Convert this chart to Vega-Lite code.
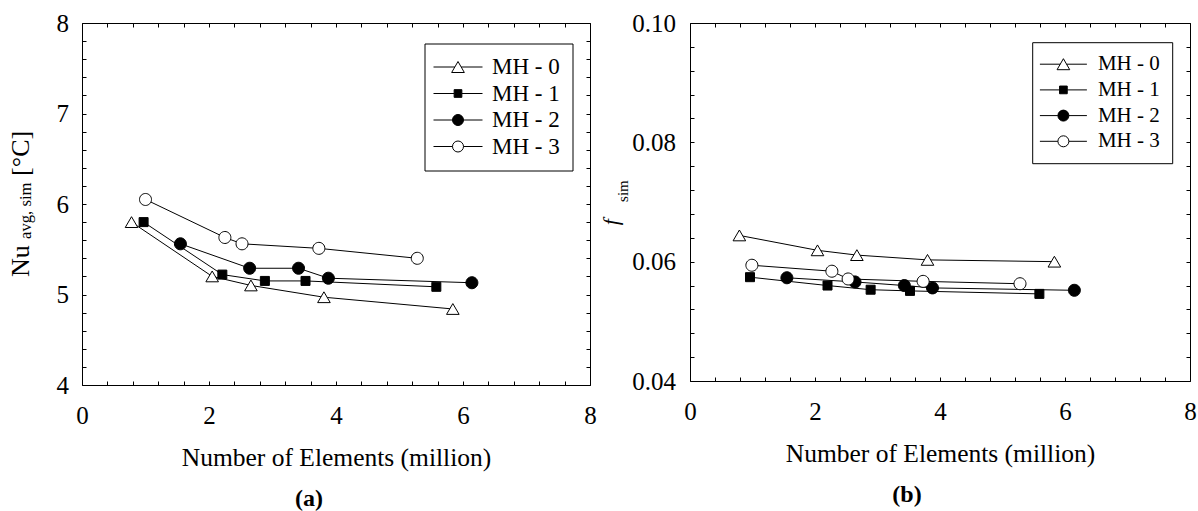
{
  "$schema": "https://vega.github.io/schema/vega-lite/v6.json",
  "background": "white",
  "padding": {"left": 7, "top": 10, "right": 5, "bottom": 5},
  "config": {
    "font": "Liberation Serif",
    "view": {"stroke": "black", "strokeWidth": 1},
    "axis": {
      "grid": false,
      "domain": false,
      "tickColor": "black",
      "tickWidth": 1,
      "tickSize": 4,
      "offset": -4,
      "labelFont": "Liberation Serif",
      "labelFontSize": 25,
      "labelColor": "black",
      "labelFlush": false,
      "labelOverlap": false,
      "labelBound": false,
      "titleFont": "Liberation Serif",
      "titleFontSize": 25.5,
      "titleFontWeight": "normal",
      "titleColor": "black"
    },
    "title": {"font": "Liberation Serif", "fontSize": 24, "fontWeight": "bold", "color": "black", "frame": "group"}
  },
  "datasets": {
    "nusselt": [
      {"mesh": "MH - 0", "elements": 0.78, "nu": 5.80},
      {"mesh": "MH - 0", "elements": 2.05, "nu": 5.20},
      {"mesh": "MH - 0", "elements": 2.66, "nu": 5.10},
      {"mesh": "MH - 0", "elements": 3.81, "nu": 4.97},
      {"mesh": "MH - 0", "elements": 5.84, "nu": 4.84},
      {"mesh": "MH - 1", "elements": 0.97, "nu": 5.80},
      {"mesh": "MH - 1", "elements": 2.21, "nu": 5.22},
      {"mesh": "MH - 1", "elements": 2.88, "nu": 5.15},
      {"mesh": "MH - 1", "elements": 3.52, "nu": 5.15},
      {"mesh": "MH - 1", "elements": 5.58, "nu": 5.085},
      {"mesh": "MH - 2", "elements": 1.55, "nu": 5.56},
      {"mesh": "MH - 2", "elements": 2.64, "nu": 5.29},
      {"mesh": "MH - 2", "elements": 3.41, "nu": 5.29},
      {"mesh": "MH - 2", "elements": 3.88, "nu": 5.18},
      {"mesh": "MH - 2", "elements": 6.14, "nu": 5.13},
      {"mesh": "MH - 3", "elements": 1.00, "nu": 6.05},
      {"mesh": "MH - 3", "elements": 2.25, "nu": 5.63},
      {"mesh": "MH - 3", "elements": 2.52, "nu": 5.56},
      {"mesh": "MH - 3", "elements": 3.73, "nu": 5.51},
      {"mesh": "MH - 3", "elements": 5.28, "nu": 5.40}
    ],
    "friction": [
      {"mesh": "MH - 0", "elements": 0.79, "f": 0.0644},
      {"mesh": "MH - 0", "elements": 2.04, "f": 0.0619},
      {"mesh": "MH - 0", "elements": 2.67, "f": 0.0611},
      {"mesh": "MH - 0", "elements": 3.80, "f": 0.0603},
      {"mesh": "MH - 0", "elements": 5.83, "f": 0.0600},
      {"mesh": "MH - 1", "elements": 0.96, "f": 0.0574},
      {"mesh": "MH - 1", "elements": 2.20, "f": 0.0560},
      {"mesh": "MH - 1", "elements": 2.89, "f": 0.0553},
      {"mesh": "MH - 1", "elements": 3.52, "f": 0.0551},
      {"mesh": "MH - 1", "elements": 5.59, "f": 0.0546},
      {"mesh": "MH - 2", "elements": 1.55, "f": 0.0573},
      {"mesh": "MH - 2", "elements": 2.64, "f": 0.0566},
      {"mesh": "MH - 2", "elements": 3.43, "f": 0.0560},
      {"mesh": "MH - 2", "elements": 3.88, "f": 0.0556},
      {"mesh": "MH - 2", "elements": 6.15, "f": 0.0552},
      {"mesh": "MH - 3", "elements": 0.99, "f": 0.0594},
      {"mesh": "MH - 3", "elements": 2.27, "f": 0.0584},
      {"mesh": "MH - 3", "elements": 2.53, "f": 0.0571},
      {"mesh": "MH - 3", "elements": 3.73, "f": 0.0567},
      {"mesh": "MH - 3", "elements": 5.28, "f": 0.0563}
    ]
  },
  "bounds": "flush",
  "spacing": 100,
  "hconcat": [
    {
      "width": 508,
      "height": 362,
      "title": {"text": "(a)", "orient": "bottom", "dx": -27, "offset": 16},
      "resolve": {"axis": {"x": "independent", "y": "independent"}, "scale": {"shape": "independent", "fill": "independent", "stroke": "independent"}},
      "layer": [
        {
          "data": {"name": "nusselt"},
          "mark": {"type": "line", "color": "black", "strokeWidth": 1},
          "encoding": {
            "x": {
              "field": "elements", "type": "quantitative",
              "scale": {"domain": [0, 8], "nice": false, "zero": false},
              "axis": {
                "orient": "bottom",
                "values": [0, 0.4, 0.8, 1.2, 1.6, 2, 2.4, 2.8, 3.2, 3.6, 4, 4.4, 4.8, 5.2, 5.6, 6, 6.4, 6.8, 7.2, 7.6, 8],
                "labelExpr": "abs(datum.value / 2 - round(datum.value / 2)) < 0.001 ? format(datum.value, 'd') : ''",
                "labelPadding": 18,
                "title": "Number of Elements (million)",
                "titlePadding": 17
              }
            },
            "y": {
              "field": "nu", "type": "quantitative",
              "scale": {"domain": [4, 8], "nice": false, "zero": false},
              "axis": {
                "orient": "left",
                "values": [4, 4.2, 4.4, 4.6, 4.8, 5, 5.2, 5.4, 5.6, 5.8, 6, 6.2, 6.4, 6.6, 6.8, 7, 7.2, 7.4, 7.6, 7.8, 8],
                "labelExpr": "abs(datum.value - round(datum.value)) < 0.001 ? format(datum.value, 'd') : ''",
                "labelPadding": 13.5,
                "title": "Nu",
                "titleFontSize": 26,
                "titleAngle": 270,
                "titleAlign": "left",
                "titleBaseline": "alphabetic",
                "titleX": -57.2,
                "titleY": 253.5
              }
            },
            "detail": {"field": "mesh", "type": "nominal"},
            "order": {"field": "elements", "type": "quantitative"}
          }
        },
        {
          "data": {"name": "nusselt"},
          "mark": {"type": "point", "filled": true, "stroke": "black", "strokeWidth": 1, "opacity": 1, "size": 144},
          "encoding": {
            "x": {
              "field": "elements", "type": "quantitative",
              "axis": {
                "orient": "top",
                "values": [0, 0.4, 0.8, 1.2, 1.6, 2, 2.4, 2.8, 3.2, 3.6, 4, 4.4, 4.8, 5.2, 5.6, 6, 6.4, 6.8, 7.2, 7.6, 8],
                "labels": false,
                "title": "avg, sim",
                "titleFontSize": 16.7,
                "titleAngle": 270,
                "titleAlign": "left",
                "titleBaseline": "alphabetic",
                "titleX": -51.7,
                "titleY": 211.5
              }
            },
            "y": {
              "field": "nu", "type": "quantitative",
              "axis": {
                "orient": "right",
                "values": [4, 4.2, 4.4, 4.6, 4.8, 5, 5.2, 5.4, 5.6, 5.8, 6, 6.2, 6.4, 6.6, 6.8, 7, 7.2, 7.4, 7.6, 7.8, 8],
                "labels": false,
                "title": "[°C]",
                "titleFontSize": 26,
                "titleAngle": 270,
                "titleAlign": "left",
                "titleBaseline": "alphabetic",
                "titleX": -557.2,
                "titleY": 152.4
              }
            },
            "fill": {
              "field": "mesh", "type": "nominal",
              "scale": {"domain": ["MH - 0", "MH - 1", "MH - 2", "MH - 3"], "range": ["white", "black", "black", "white"]},
              "legend": null
            },
            "shape": {
              "field": "mesh", "type": "nominal",
              "scale": {
                "domain": ["MH - 0", "MH - 1", "MH - 2", "MH - 3"],
                "range": [
                  "M0,-0.9L1.05,0.9L-1.05,0.9Z",
                  "M-0.75,-0.75H0.75V0.75H-0.75Z",
                  "M1,0A1,1,0,1,1,-1,0A1,1,0,1,1,1,0Z",
                  "M1,0A1,1,0,1,1,-1,0A1,1,0,1,1,1,0Z"
                ]
              },
              "legend": null
            }
          }
        },
        {
          "data": {"name": "nusselt"},
          "transform": [{"filter": "false"}],
          "mark": {"type": "point", "filled": true, "strokeWidth": 1, "opacity": 1, "size": 100},
          "encoding": {
            "x": {"field": "elements", "type": "quantitative", "axis": null},
            "y": {"field": "nu", "type": "quantitative", "axis": null},
            "fill": {
              "field": "mesh", "type": "nominal",
              "scale": {"domain": ["MH - 0", "MH - 1", "MH - 2", "MH - 3"], "range": ["white", "black", "black", "white"]},
              "legend": {
                "title": null, "orient": "none", "legendX": 342.5, "legendY": 20.5,
                "strokeColor": "black", "fillColor": "white", "padding": 12,
                "labelFont": "Liberation Serif", "labelFontSize": 23, "labelColor": "black",
                "symbolSize": 100, "symbolOpacity": 1, "symbolStrokeColor": "black", "symbolStrokeWidth": 1,
                "symbolOffset": 10, "labelOffset": 22.5, "rowPadding": 2.5
              }
            },
            "stroke": {
              "field": "mesh", "type": "nominal",
              "scale": {"domain": ["MH - 0", "MH - 1", "MH - 2", "MH - 3"], "range": ["black", "black", "black", "black"]},
              "legend": {
                "title": null, "orient": "none", "legendX": 342.5, "legendY": 20.5,
                "strokeColor": "black", "fillColor": "white", "padding": 12,
                "labelFont": "Liberation Serif", "labelFontSize": 23, "labelColor": "black",
                "symbolSize": 100, "symbolOpacity": 1, "symbolStrokeColor": "black", "symbolStrokeWidth": 1,
                "symbolOffset": 10, "labelOffset": 22.5, "rowPadding": 2.5
              }
            },
            "shape": {
              "field": "mesh", "type": "nominal",
              "scale": {
                "domain": ["MH - 0", "MH - 1", "MH - 2", "MH - 3"],
                "range": [
                  "M-4.9,0H-0.64M0.64,0H4.9M0,-1.1L1.27,1.1L-1.27,1.1Z",
                  "M-4.9,0H-0.77M0.77,0H4.9M-0.77,-0.77H0.77V0.77H-0.77Z",
                  "M-4.9,0H-1.1M1.1,0H4.9M1.1,0A1.1,1.1,0,1,1,-1.1,0A1.1,1.1,0,1,1,1.1,0Z",
                  "M-4.9,0H-1.1M1.1,0H4.9M1.1,0A1.1,1.1,0,1,1,-1.1,0A1.1,1.1,0,1,1,1.1,0Z"
                ]
              },
              "legend": {
                "title": null, "orient": "none", "legendX": 342.5, "legendY": 20.5,
                "strokeColor": "black", "fillColor": "white", "padding": 12,
                "labelFont": "Liberation Serif", "labelFontSize": 23, "labelColor": "black",
                "symbolSize": 100, "symbolOpacity": 1, "symbolStrokeColor": "black", "symbolStrokeWidth": 1,
                "symbolOffset": 10, "labelOffset": 22.5, "rowPadding": 2.5
              }
            }
          }
        }
      ]
    },
    {
      "width": 500,
      "height": 358,
      "title": {"text": "(b)", "orient": "bottom", "dx": -33, "offset": 16},
      "resolve": {"axis": {"x": "independent", "y": "independent"}, "scale": {"shape": "independent", "fill": "independent", "stroke": "independent"}},
      "layer": [
        {
          "data": {"name": "friction"},
          "mark": {"type": "line", "color": "black", "strokeWidth": 1},
          "encoding": {
            "x": {
              "field": "elements", "type": "quantitative",
              "scale": {"domain": [0, 8], "nice": false, "zero": false},
              "axis": {
                "orient": "bottom",
                "values": [0, 0.4, 0.8, 1.2, 1.6, 2, 2.4, 2.8, 3.2, 3.6, 4, 4.4, 4.8, 5.2, 5.6, 6, 6.4, 6.8, 7.2, 7.6, 8],
                "labelExpr": "abs(datum.value / 2 - round(datum.value / 2)) < 0.001 ? format(datum.value, 'd') : ''",
                "labelPadding": 18,
                "title": "Number of Elements (million)",
                "titlePadding": 17
              }
            },
            "y": {
              "field": "f", "type": "quantitative",
              "scale": {"domain": [0.04, 0.1], "nice": false, "zero": false},
              "axis": {
                "orient": "left",
                "values": [0.04, 0.044, 0.048, 0.052, 0.056, 0.06, 0.064, 0.068, 0.072, 0.076, 0.08, 0.084, 0.088, 0.092, 0.096, 0.1],
                "labelExpr": "abs(datum.value * 50 - round(datum.value * 50)) < 0.001 ? format(datum.value, '.2f') : ''",
                "labelPadding": 14.5,
                "title": "f",
                "titleFontSize": 22,
                "titleFontStyle": "italic",
                "titleAngle": 270,
                "titleAlign": "left",
                "titleBaseline": "alphabetic",
                "titleX": -76.5,
                "titleY": 201.7
              }
            },
            "detail": {"field": "mesh", "type": "nominal"},
            "order": {"field": "elements", "type": "quantitative"}
          }
        },
        {
          "data": {"name": "friction"},
          "mark": {"type": "point", "filled": true, "stroke": "black", "strokeWidth": 1, "opacity": 1, "size": 144},
          "encoding": {
            "x": {
              "field": "elements", "type": "quantitative",
              "axis": {
                "orient": "top",
                "values": [0, 0.4, 0.8, 1.2, 1.6, 2, 2.4, 2.8, 3.2, 3.6, 4, 4.4, 4.8, 5.2, 5.6, 6, 6.4, 6.8, 7.2, 7.6, 8],
                "labels": false,
                "title": "sim",
                "titleFontSize": 15,
                "titleAngle": 270,
                "titleAlign": "left",
                "titleBaseline": "alphabetic",
                "titleX": -62.5,
                "titleY": 174.4
              }
            },
            "y": {
              "field": "f", "type": "quantitative",
              "axis": {
                "orient": "right",
                "values": [0.04, 0.044, 0.048, 0.052, 0.056, 0.06, 0.064, 0.068, 0.072, 0.076, 0.08, 0.084, 0.088, 0.092, 0.096, 0.1],
                "labels": false,
                "title": null
              }
            },
            "fill": {
              "field": "mesh", "type": "nominal",
              "scale": {"domain": ["MH - 0", "MH - 1", "MH - 2", "MH - 3"], "range": ["white", "black", "black", "white"]},
              "legend": null
            },
            "shape": {
              "field": "mesh", "type": "nominal",
              "scale": {
                "domain": ["MH - 0", "MH - 1", "MH - 2", "MH - 3"],
                "range": [
                  "M0,-0.9L1.05,0.9L-1.05,0.9Z",
                  "M-0.75,-0.75H0.75V0.75H-0.75Z",
                  "M1,0A1,1,0,1,1,-1,0A1,1,0,1,1,1,0Z",
                  "M1,0A1,1,0,1,1,-1,0A1,1,0,1,1,1,0Z"
                ]
              },
              "legend": null
            }
          }
        },
        {
          "data": {"name": "friction"},
          "transform": [{"filter": "false"}],
          "mark": {"type": "point", "filled": true, "strokeWidth": 1, "opacity": 1, "size": 100},
          "encoding": {
            "x": {"field": "elements", "type": "quantitative", "axis": null},
            "y": {"field": "f", "type": "quantitative", "axis": null},
            "fill": {
              "field": "mesh", "type": "nominal",
              "scale": {"domain": ["MH - 0", "MH - 1", "MH - 2", "MH - 3"], "range": ["white", "black", "black", "white"]},
              "legend": {
                "title": null, "orient": "none", "legendX": 342.2, "legendY": 19.2,
                "strokeColor": "black", "fillColor": "white", "padding": 11.5,
                "labelFont": "Liberation Serif", "labelFontSize": 21, "labelColor": "black",
                "symbolSize": 100, "symbolOpacity": 1, "symbolStrokeColor": "black", "symbolStrokeWidth": 1,
                "symbolOffset": 9.2, "labelOffset": 24, "rowPadding": 3.7
              }
            },
            "stroke": {
              "field": "mesh", "type": "nominal",
              "scale": {"domain": ["MH - 0", "MH - 1", "MH - 2", "MH - 3"], "range": ["black", "black", "black", "black"]},
              "legend": {
                "title": null, "orient": "none", "legendX": 342.2, "legendY": 19.2,
                "strokeColor": "black", "fillColor": "white", "padding": 11.5,
                "labelFont": "Liberation Serif", "labelFontSize": 21, "labelColor": "black",
                "symbolSize": 100, "symbolOpacity": 1, "symbolStrokeColor": "black", "symbolStrokeWidth": 1,
                "symbolOffset": 9.2, "labelOffset": 24, "rowPadding": 3.7
              }
            },
            "shape": {
              "field": "mesh", "type": "nominal",
              "scale": {
                "domain": ["MH - 0", "MH - 1", "MH - 2", "MH - 3"],
                "range": [
                  "M-4.7,0H-0.64M0.64,0H4.7M0,-1.1L1.27,1.1L-1.27,1.1Z",
                  "M-4.7,0H-0.77M0.77,0H4.7M-0.77,-0.77H0.77V0.77H-0.77Z",
                  "M-4.7,0H-1.1M1.1,0H4.7M1.1,0A1.1,1.1,0,1,1,-1.1,0A1.1,1.1,0,1,1,1.1,0Z",
                  "M-4.7,0H-1.1M1.1,0H4.7M1.1,0A1.1,1.1,0,1,1,-1.1,0A1.1,1.1,0,1,1,1.1,0Z"
                ]
              },
              "legend": {
                "title": null, "orient": "none", "legendX": 342.2, "legendY": 19.2,
                "strokeColor": "black", "fillColor": "white", "padding": 11.5,
                "labelFont": "Liberation Serif", "labelFontSize": 21, "labelColor": "black",
                "symbolSize": 100, "symbolOpacity": 1, "symbolStrokeColor": "black", "symbolStrokeWidth": 1,
                "symbolOffset": 9.2, "labelOffset": 24, "rowPadding": 3.7
              }
            }
          }
        }
      ]
    }
  ]
}
